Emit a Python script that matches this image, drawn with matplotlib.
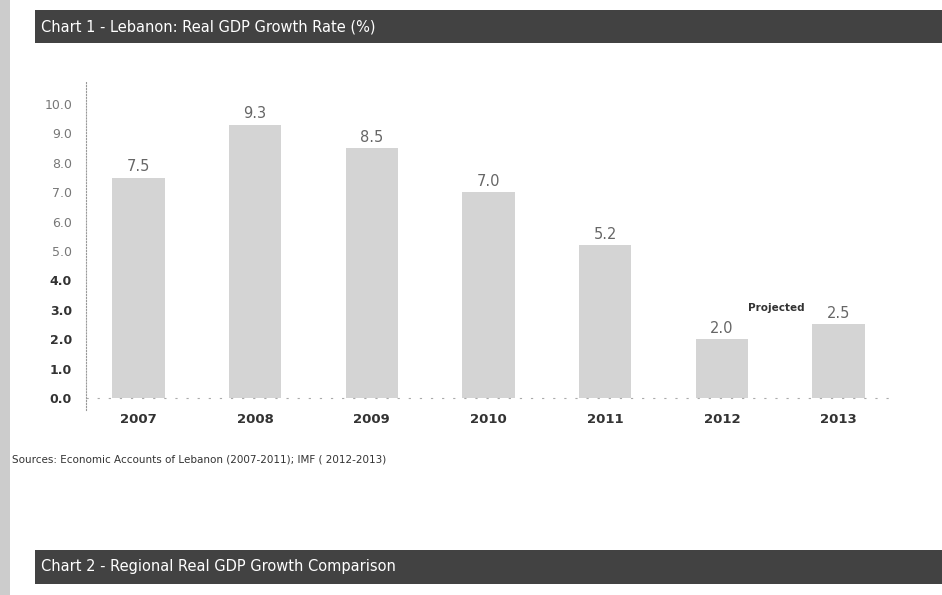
import matplotlib.pyplot as plt
from matplotlib.patches import Rectangle

# =======================
# DATA
# =======================
years = ['2007', '2008', '2009', '2010', '2011', '2012', '2013']
growth = [7.5, 9.3, 8.5, 7.0, 5.2, 2.0, 2.5]
y_ticks = [0, 1, 2, 3, 4, 5, 6, 7, 8, 9, 10]
y_tick_labels = [f"{v:.1f}" for v in y_ticks]

title1 = "Chart 1 - Lebanon: Real GDP Growth Rate (%)"
title2 = "Chart 2 - Regional Real GDP Growth Comparison"
source = "Sources: Economic Accounts of Lebanon (2007-2011); IMF ( 2012-2013)"

BAR_COLOR = '#d4d4d4'
HEADER_COLOR = '#424242'

plt.rcParams['hatch.color'] = '#a8a8a8'
plt.rcParams['hatch.linewidth'] = 0.6

# =======================
# FIGURE
# =======================
fig = plt.figure(figsize=(9.42, 5.95), dpi=100)
fig.patch.set_facecolor('white')

# grey strip on the left edge of the scan
fig.add_artist(Rectangle((0, 0), 10 / 942, 1, transform=fig.transFigure,
                         color='#cccccc', lw=0))

# header bars
for top, h, txt in [(10, 33, title1), (550, 34, title2)]:
    y0 = 1 - (top + h) / 595
    fig.add_artist(Rectangle((35 / 942, y0), 1, h / 595, transform=fig.transFigure,
                             color=HEADER_COLOR, lw=0))
    fig.text(41 / 942, y0 + h / 2 / 595, txt, color='white', fontsize=10.5,
             va='center', ha='left')

ax = fig.add_axes([86 / 942, 1 - 410 / 595, 805 / 942, 328 / 595])
x = range(len(years))
ax.bar(x, growth, width=0.45, color=BAR_COLOR, edgecolor='none', hatch='....', lw=0)

for xi, v in zip(x, growth):
    ax.text(xi, v + 0.12, f"{v:.1f}", ha='center', va='bottom',
            fontsize=10.5, color='#666666')

ax.text(5.47, 3.06, "Projected", ha='center', va='center', fontsize=7.5,
        fontweight='bold', color='#333333')

ax.set_xlim(-0.45, 6.45)
ax.set_ylim(-0.41, 10.75)
ax.set_xticks(list(x))
ax.set_xticklabels(years, fontsize=9.5, fontweight='bold', color='#333333')
ax.set_yticks(y_ticks)
ax.set_yticklabels(y_tick_labels, fontsize=9, color='#777777')
for lbl, v in zip(ax.get_yticklabels(), y_ticks):
    if v <= 4:
        lbl.set_color('#333333')
        lbl.set_fontweight('bold')
ax.tick_params(axis='x', length=0, pad=2)
ax.tick_params(axis='y', length=0, pad=10)

for s in ['top', 'right', 'bottom']:
    ax.spines[s].set_visible(False)
ax.spines['left'].set_linestyle(':')
ax.spines['left'].set_color('#999999')
ax.axhline(0, color='#aaaaaa', lw=0.8, ls=(0, (2, 8)))

fig.text(12 / 942, 1 - 459 / 595, source, fontsize=7.5, color='#333333',
         va='center', ha='left')

fig.savefig('out.png', dpi=100)
